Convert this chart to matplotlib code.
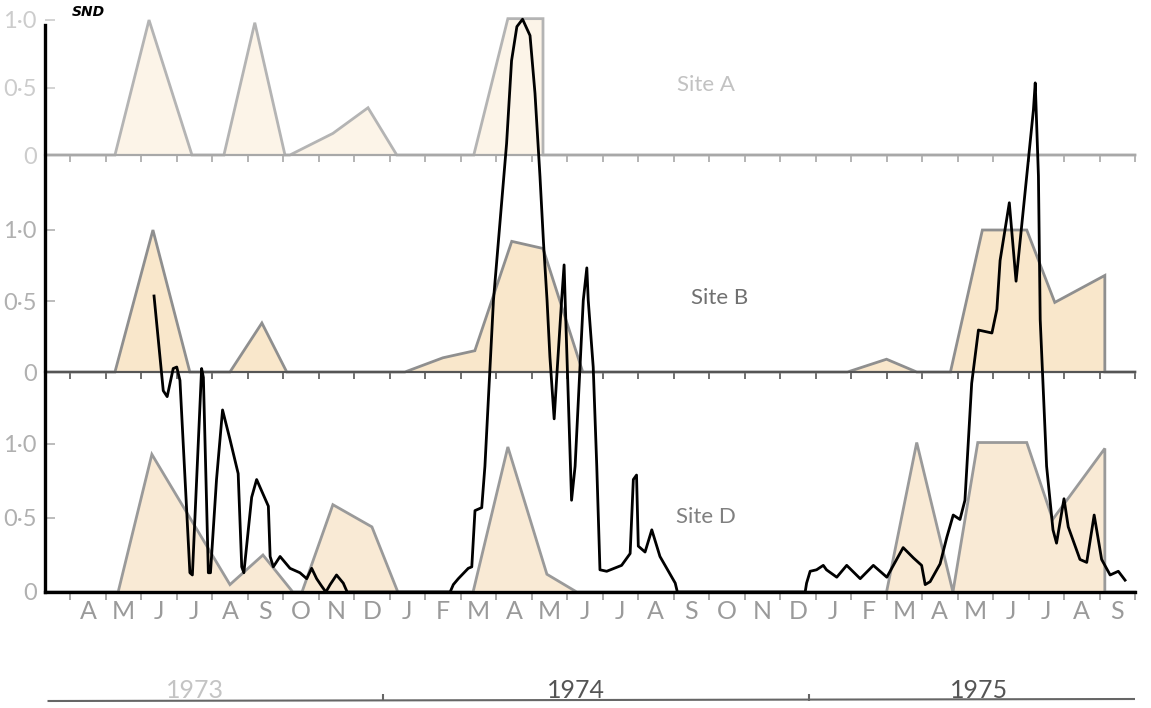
import matplotlib
matplotlib.use("Agg")
import matplotlib.pyplot as plt

# month index: 0 = April 1973 ... 29 = September 1975
months = ['A', 'M', 'J', 'J', 'A', 'S', 'O', 'N', 'D',
          'J', 'F', 'M', 'A', 'M', 'J', 'J', 'A', 'S', 'O', 'N', 'D',
          'J', 'F', 'M', 'A', 'M', 'J', 'J', 'A', 'S']
years = ['1973', '1974', '1975']
year_pos = [3.0, 13.75, 25.1]
year_bounds = [8.3, 20.3]
year_colors = ['#c4c4c4', '#555555', '#555555']

site_a_t = [-1.2, 0.76, 1.72, 2.93, 3.83, 4.70, 5.55, 5.69, 6.9, 7.89, 8.7,
            10.87, 11.83, 12.82, 12.82, 29.5]
site_a_v = [0, 0, 1.0, 0, 0, 0.98, 0, 0, 0.16, 0.35, 0,
            0, 1.01, 1.01, 0, 0]

site_b_t = [-1.2, 0.76, 1.83, 2.87, 4.0, 4.9, 5.6, 8.93, 10.0, 10.9, 11.94,
            12.82, 13.94, 21.4, 22.5, 23.35, 24.3, 25.2, 26.45, 27.24,
            28.65, 28.65, 29.5]
site_b_v = [0, 0, 1.0, 0, 0, 0.345, 0, 0, 0.1, 0.15, 0.92,
            0.87, 0, 0, 0.09, 0, 0, 1.0, 1.0, 0.49,
            0.68, 0, 0]

site_d_t = [-1.2, 0.85, 1.8, 4.0, 4.93, 5.77, 6.03, 6.9, 8.0, 8.73, 10.85,
            11.83, 12.93, 13.77, 22.5, 23.35, 24.37, 25.07, 26.45, 27.18,
            28.65, 28.65, 29.5]
site_d_v = [0, 0, 0.93, 0.05, 0.25, 0, 0, 0.59, 0.44, 0, 0,
            0.98, 0.12, 0, 0, 1.01, 0, 1.01, 1.01, 0.49,
            0.97, 0, 0]

# SND (hand-drawn overlay), same units as site D scale
snd_t = [1.86, 2.12, 2.23, 2.40, 2.50, 2.59, 2.87, 2.94, 3.20, 3.25, 3.39,
         3.45, 3.62, 3.79, 4.00, 4.23, 4.33, 4.39, 4.61, 4.75, 5.08, 5.13,
         5.22, 5.41, 5.69, 5.97, 6.16, 6.30, 6.44, 6.58, 6.70, 6.82, 7.00,
         7.19, 7.30,
         10.2, 10.29, 10.43, 10.71, 10.81, 10.90, 11.09, 11.18, 11.42,
         11.79, 11.93, 12.08, 12.24, 12.45, 12.59, 12.73, 12.83, 12.93,
         13.01, 13.13, 13.22, 13.34, 13.41, 13.44, 13.62, 13.72, 13.95,
         14.05, 14.09, 14.23, 14.33, 14.42, 14.61, 15.03, 15.27, 15.36,
         15.45, 15.50, 15.69, 15.88, 16.11, 16.54, 16.6,
         20.2, 20.24, 20.34, 20.52, 20.71, 20.80, 21.09, 21.37, 21.75,
         22.12, 22.50, 22.96, 23.25, 23.48, 23.58, 23.72, 24.00, 24.19,
         24.37, 24.56, 24.70, 24.89, 25.08, 25.27, 25.46, 25.60, 25.69,
         25.95, 26.14, 26.44, 26.63, 26.68, 26.77, 26.82, 27.00, 27.18,
         27.28, 27.49, 27.61, 27.94, 28.13, 28.34, 28.55, 28.79, 29.02,
         29.21]
snd_v = [2.0, 1.36, 1.32, 1.51, 1.52, 1.43, 0.13, 0.115, 1.51, 1.45, 0.13,
         0.13, 0.76, 1.23, 1.03, 0.80, 0.17, 0.13, 0.64, 0.76, 0.58, 0.24,
         0.17, 0.24, 0.16, 0.13, 0.09, 0.16, 0.09, 0.04, 0.0, 0.05, 0.115,
         0.06, 0.0,
         0.0, 0.05, 0.09, 0.16, 0.17, 0.55, 0.57, 0.85, 1.97,
         3.03, 3.59, 3.82, 3.87, 3.76, 3.37, 2.81, 2.36, 1.97,
         1.59, 1.17, 1.52, 1.97, 2.21, 1.97, 0.62, 0.85, 1.97,
         2.19, 1.97, 1.52, 0.85, 0.15, 0.14, 0.18, 0.26, 0.76,
         0.79, 0.31, 0.27, 0.42, 0.24, 0.06, 0.0,
         0.0, 0.06, 0.14, 0.15, 0.18, 0.15, 0.10, 0.18, 0.09,
         0.18, 0.10, 0.30, 0.23, 0.18, 0.05, 0.07, 0.19, 0.37,
         0.52, 0.49, 0.62, 1.41, 1.77, 1.76, 1.75, 1.91, 2.24,
         2.63, 2.10, 2.81, 3.26, 3.44, 2.81, 1.84, 0.85, 0.42,
         0.33, 0.63, 0.44, 0.22, 0.20, 0.52, 0.22, 0.115, 0.14,
         0.08]

W, H = 1151, 708
FONT = 'Lato'
XLIM = (-1.211, 29.49)
left, right = 45 / W, 1135 / W


def px_axes(bottom_px, top_px):
    return [left, 1 - bottom_px / H, right - left, (bottom_px - top_px) / H]


fig = plt.figure(figsize=(W / 100, H / 100), dpi=100)

panels = [
    # name, bottom, top, px per unit, fill, edge, spine, tick label colour, label xy, label colour
    ('Site A', 155, 15, 135, '#fcf4e8', '#b4b4b4', '#a8a8a8', '#cccccc', (17.4, 0.52), '#c2c2c2',
     site_a_t, site_a_v),
    ('Site B', 372, 155, 142, '#f9e7cb', '#8f8f8f', '#555555', '#b0b0b0', (17.8, 0.52), '#707070',
     site_b_t, site_b_v),
    ('Site D', 592, 372, 148, '#f9ead5', '#9a9a9a', None, '#b0b0b0', (17.4, 0.51), '#808080',
     site_d_t, site_d_v),
]

for name, bot, top, scale, fc, ec, sc, tc, lxy, lc, t, v in panels:
    ax = fig.add_axes(px_axes(bot, top))
    ax.patch.set_visible(False)
    ax.set_xlim(*XLIM)
    ax.set_ylim(0, (bot - top) / scale)
    ax.fill_between(t, v, 0, color=fc, lw=0, zorder=1)
    ax.plot(t, v, color=ec, lw=2, zorder=2, clip_on=False, solid_joinstyle='miter')
    for s in ['top', 'right', 'left']:
        ax.spines[s].set_visible(False)
    ax.set_yticks([0, 0.5, 1.0])
    ax.set_yticklabels(['0', '0·5', '1·0'], fontfamily=FONT, fontsize=17, color=tc)
    ax.tick_params(axis='y', direction='in', length=7, width=1.2, color=tc, pad=6)
    ax.set_xticks([m + 0.5 for m in range(-1, 30)], minor=True)
    if sc is not None:
        ax.spines['bottom'].set_color(sc)
        ax.spines['bottom'].set_linewidth(1.6)
        ax.set_xticks([])
        ax.tick_params(axis='x', which='minor', direction='out', length=5, width=1.2, color=sc)
    else:
        ax.spines['bottom'].set_visible(False)
        ax.set_xticks(range(len(months)))
        ax.set_xticklabels(months, fontfamily=FONT, fontsize=18, color='#9a9a9a')
        ax.tick_params(axis='x', which='major', length=0, pad=6)
        ax.tick_params(axis='x', which='minor', direction='out', length=6, width=1.2, color='#9a9a9a')
    ax.text(lxy[0], lxy[1], name, fontfamily=FONT, fontsize=16, color=lc,
            ha='center', va='center')

# SND overlay axes with the hand-drawn frame
ax_s = fig.add_axes(px_axes(592, 25))
ax_s.patch.set_visible(False)
ax_s.set_xlim(*XLIM)
ax_s.set_ylim(0, (592 - 25) / 148)
ax_s.plot(snd_t, snd_v, color='black', lw=2, clip_on=False, solid_joinstyle='round')
for s in ['top', 'right']:
    ax_s.spines[s].set_visible(False)
for s in ['left', 'bottom']:
    ax_s.spines[s].set_color('black')
    ax_s.spines[s].set_linewidth(2.4)
ax_s.set_xticks([])
ax_s.set_yticks([])
ax_s.text(0.025, 1.01, 'SND', transform=ax_s.transAxes, fontsize=10,
          fontweight='bold', fontstyle='italic', ha='left', va='bottom')

# year line at the bottom
ax_y = fig.add_axes([left, 0, right - left, 70 / H])
ax_y.set_xlim(*XLIM)
ax_y.set_ylim(0, 70)
ax_y.axis('off')
ax_y.plot([XLIM[0] + 0.1, XLIM[1]], [7, 9], color='#666666', lw=1.5)
ax_y.vlines(year_bounds, 7.5, 14, color='#666666', lw=1.5)
for lab, xp, c in zip(years, year_pos, year_colors):
    ax_y.text(xp, 18, lab, fontfamily=FONT, fontsize=18, color=c, ha='center', va='center')

fig.savefig('out.png', dpi=100)
